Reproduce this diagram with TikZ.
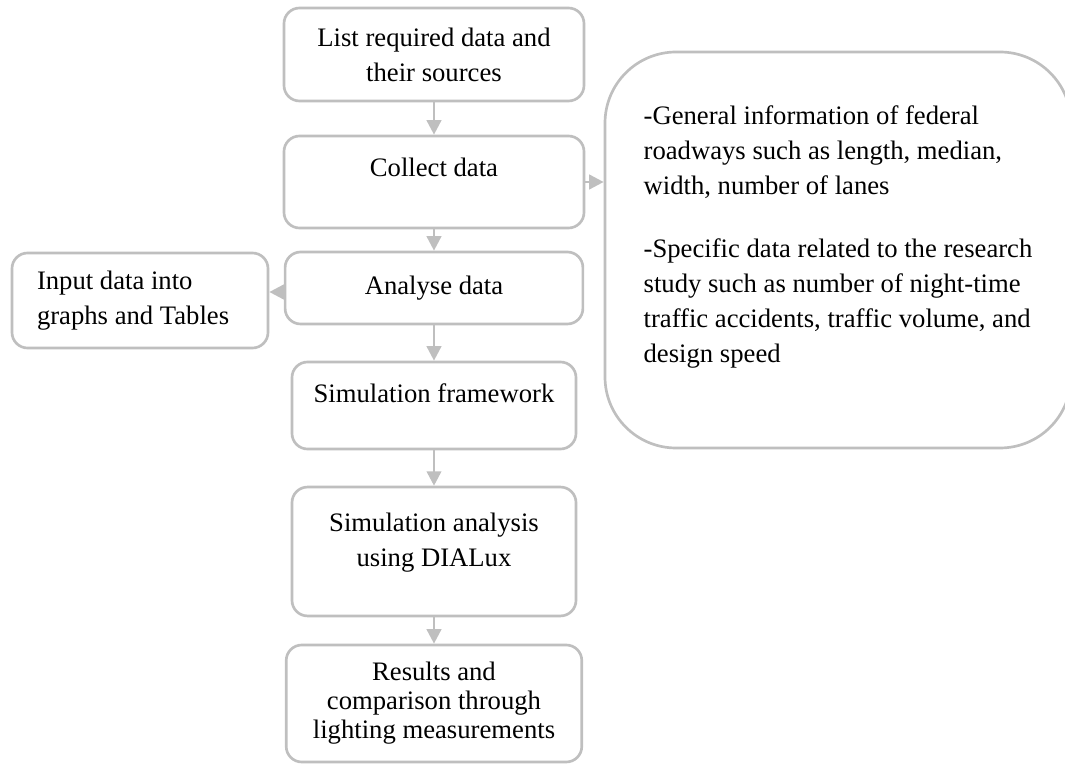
\documentclass[tikz,border=0pt]{standalone}
\usepackage{fontspec}
\setmainfont{Liberation Serif}
\usetikzlibrary{arrows.meta}
\definecolor{boxgray}{RGB}{191,191,191}
% empty last line, to lift the text inside a box
\newcommand{\padbelow}[1]{\\[#1]\mbox{}}

\begin{document}
\begin{tikzpicture}[x=0.45pt, y=-0.45pt,
    stepbox/.style={draw=boxgray, line width=1.2pt, rounded corners=7pt, align=center,
      inner sep=0pt, font=\fontsize{12pt}{15.75pt}\selectfont},
    flowarrow/.style={draw=boxgray, line width=1.2pt, -{Triangle[length=6.5pt, width=6.5pt]}}]
  \clip (0,0) rectangle (1065,765);

  \node[stepbox, minimum width=135pt, minimum height=41.85pt] (list) at (434,54.5) {List required data and\\their sources};
  \node[stepbox, minimum width=135pt, minimum height=41.4pt] (collect) at (434,182) {Collect data\padbelow{-2.25pt}};
  \node[stepbox, minimum width=134pt, minimum height=32.4pt] (analyse) at (434,288) {Analyse data};
  \node[stepbox, minimum width=115.2pt, minimum height=42.75pt, inner xsep=11.25pt, text width=92.7pt, align=flush left] (input) at (140,300.5) {Input data into\\graphs and Tables};

  \node[stepbox, minimum width=127.8pt, minimum height=39.15pt] (frame) at (434,405.5) {Simulation framework\padbelow{-4.5pt}};
  \node[stepbox, minimum width=127.8pt, minimum height=58pt] (dialux) at (434,551.5) {Simulation analysis\\using DIALux\padbelow{-5.4pt}};
  \node[stepbox, minimum width=133pt, minimum height=52.65pt, font=\fontsize{12pt}{13pt}\selectfont] (results) at (434,703.5) {Results and\\comparison through\\lighting measurements};

  \node[stepbox, rounded corners=32pt, minimum width=209.7pt, minimum height=178.2pt, align=left] (info) at (838,250) {-General information of federal\\
    roadways such as length, median,\\
    width, number of lanes\\[12.6pt]
    -Specific data related to the research\\
    study such as number of night-time\\
    traffic accidents, traffic volume, and\\
    design speed\padbelow{-1.35pt}};

  \draw[flowarrow] (list) -- (collect);
  \draw[flowarrow] (collect) -- (collect -| info.west);
  \draw[flowarrow] (collect) -- (analyse);
  \draw[flowarrow] ([yshift=-1.8pt]analyse.west) -- ([yshift=-1.8pt]analyse.west -| input.east);
  \draw[flowarrow] (analyse) -- (frame);
  \draw[flowarrow] (frame) -- (dialux);
  \draw[flowarrow] (dialux) -- (results);
\end{tikzpicture}
\end{document}
